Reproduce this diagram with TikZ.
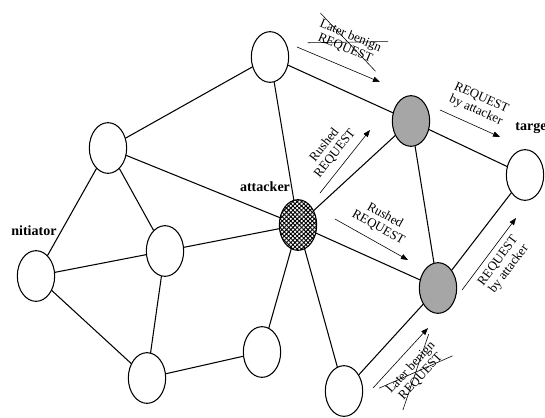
\documentclass[tikz,border=0pt]{standalone}
\usepackage{fontspec}
\setmainfont{Liberation Serif}
\usetikzlibrary{arrows.meta,shapes.geometric,shapes.misc,patterns.meta}

\begin{document}
\begin{tikzpicture}[line cap=round,line join=round,x=0.03cm,y=-0.03cm,
  peer/.style={draw,ellipse,line width=0.9pt,minimum width=1.12cm,minimum height=1.52cm,inner sep=0pt,fill=white},
  rushing/.style={peer,fill=gray!70},
  badguy/.style={draw,ellipse,line width=0.9pt,minimum width=1.12cm,minimum height=1.52cm,inner sep=0pt,
    pattern={Hatch[angle=45,distance=2.6pt,line width=0.8pt]}},
  link/.style={line width=0.9pt},
  msg/.style={-{Triangle[length=6pt,width=4.5pt]},line width=0.5pt},
  msgtext/.style={font=\fontsize{11}{11.5}\selectfont,align=center,inner sep=2pt},
  struck/.style={msgtext,cross out,draw,line width=0.5pt,inner sep=3pt},
  tag/.style={font=\fontsize{12}{12}\selectfont\bfseries,inner sep=1pt}]

\useasboundingbox (0,0) rectangle (545,417);

% peers
\node[peer] (a) at (108,148) {};
\node[peer] (b) at (270,57) {};
\node[peer] (init) at (36,276) {};
\node[peer] (c) at (165,251) {};
\node[badguy] (att) at (298,225) {};
\node[rushing] (g1) at (411,121) {};
\node[rushing] (g2) at (438,288) {};
\node[peer] (tgt) at (525,175) {};
\node[peer] (d) at (147,378) {};
\node[peer] (f) at (262,352) {};
\node[peer] (e) at (344,391) {};

\node[tag,anchor=east] (lblinit) at (58,231) {nitiator};
\node[tag] (lblatt) at (265,187) {attacker};
\node[tag,anchor=west] (lbltgt) at (514,128) {targe};

% links
\draw[link] (a) -- (b) (a) -- (init) (a) -- (c) (a) -- (att) (b) -- (att) (b) -- (g1)
  (init) -- (c) (init) -- (d) (c) -- (att) (c) -- (d) (d) -- (f) (f) -- (att)
  (att) -- (e) (att) -- (g1) (att) -- (g2) (g1) -- (g2) (g1) -- (tgt) (g2) -- (tgt) (e) -- (g2);

% request flows
\coordinate (m1s) at (297,47);  \coordinate (m1e) at (380,82);
\coordinate (m2s) at (320,193); \coordinate (m2e) at (370,130);
\coordinate (m3s) at (335,219); \coordinate (m3e) at (408,260);
\coordinate (m4s) at (440,110); \coordinate (m4e) at (500,137);
\coordinate (m5s) at (462,290); \coordinate (m5e) at (516,218);
\coordinate (m6s) at (373,388); \coordinate (m6e) at (428,328);

\draw[msg] (m1s) -- (m1e) node[midway,above=7pt,sloped,struck] {Later benign\\REQUEST};
\draw[msg] (m2s) -- (m2e) node[midway,above=4pt,sloped,msgtext] {Rushed\\REQUEST};
\draw[msg] (m3s) -- (m3e) node[midway,above=5pt,sloped,msgtext] {Rushed\\REQUEST};
\draw[msg] (m4s) -- (m4e) node[midway,above=5pt,sloped,msgtext] {REQUEST\\by attacker};
\draw[msg] (m5s) -- (m5e) node[midway,below=3pt,sloped,msgtext] {REQUEST\\by attacker};
\draw[msg] (m6s) -- (m6e) node[midway,below=4pt,sloped,struck] {Later benign\\REQUEST};
\end{tikzpicture}
\end{document}
